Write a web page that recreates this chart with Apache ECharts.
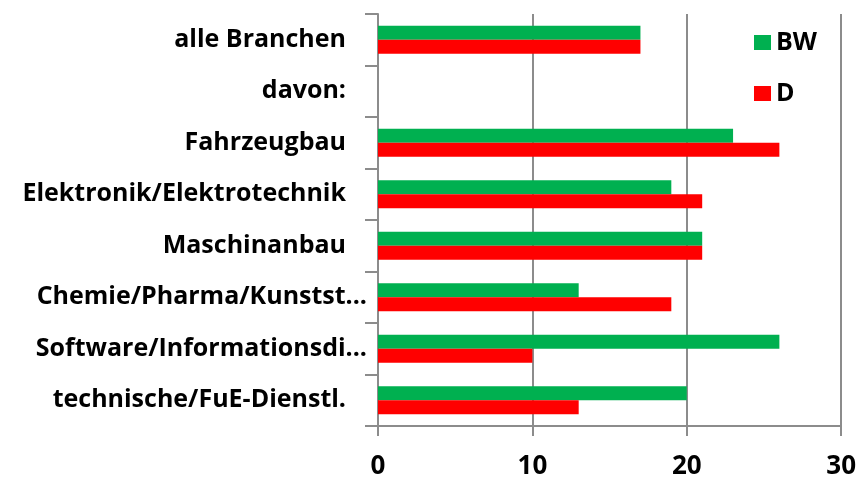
<!DOCTYPE html>
<html>
<head>
<meta charset="utf-8">
<script src="https://cdn.jsdelivr.net/npm/echarts@6/dist/echarts.min.js"></script>
<style>
  html, body { margin: 0; padding: 0; background: #fff; }
  #chart { width: 859px; height: 480px; }
</style>
</head>
<body>
<div id="chart"></div>
<script>
// Kategorien von oben nach unten
var categories = ['alle Branchen', 'davon:', 'Fahrzeugbau', 'Elektronik/Elektrotechnik', 'Maschinanbau',
  'Chemie/Pharma/Kunstst...', 'Software/Informationsdi...', 'technische/FuE-Dienstl.'];
var bwValues = [17, null, 23, 19, 21, 13, 26, 20];
var dValues = [17, null, 26, 21, 21, 19, 10, 13];
var xTicks = [0, 10, 20, 30];

var gridColor = '#8c8c8c';
var labelFont = 'Open Sans';

var myChart = echarts.init(document.getElementById('chart'));
myChart.setOption({
  animation: false,
  textStyle: { fontFamily: labelFont },
  color: ['#00B050', '#FF0000'],
  legend: {
    orient: 'vertical',
    left: 749,
    top: 25,
    itemWidth: 17,
    itemHeight: 15,
    itemGap: 26,
    itemStyle: { borderWidth: 0 },
    icon: 'rect',
    data: ['BW', 'D'],
    textStyle: { fontSize: 25, fontWeight: 'bold', color: '#000', fontFamily: labelFont }
  },
  grid: { left: 378, right: 16, top: 14, bottom: 50, containLabel: false },
  xAxis: {
    type: 'value',
    min: xTicks[0],
    max: xTicks[xTicks.length - 1],
    interval: 10,
    axisLine: { show: true, lineStyle: { color: gridColor, width: 2 } },
    axisTick: { show: true, length: 10, lineStyle: { color: gridColor, width: 2 } },
    splitLine: { show: true, lineStyle: { color: gridColor, width: 2 } },
    axisLabel: { margin: 28, fontSize: 26, fontWeight: 'bold', color: '#000' }
  },
  yAxis: {
    type: 'category',
    inverse: true,
    data: categories,
    axisLine: { show: true, lineStyle: { color: gridColor, width: 2 } },
    axisTick: { show: true, length: 13, interval: 0, lineStyle: { color: gridColor, width: 2 } },
    axisLabel: {
      margin: 11,
      interval: 0,
      fontSize: 25,
      fontWeight: 'bold',
      color: '#000',
      formatter: function (v) {
        return v.indexOf('...') > 0 ? '{e|' + v + '}' : '{n|' + v + '}';
      },
      rich: {
        n: { fontSize: 25, fontWeight: 'bold', color: '#000', padding: [0, 21, 0, 0] },
        e: { fontSize: 25, fontWeight: 'bold', color: '#000' }
      }
    }
  },
  series: [
    { name: 'BW', type: 'bar', data: bwValues, barWidth: 14, barGap: '0%' },
    { name: 'D', type: 'bar', data: dValues, barWidth: 14, barGap: '0%' }
  ]
});
</script>
</body>
</html>
